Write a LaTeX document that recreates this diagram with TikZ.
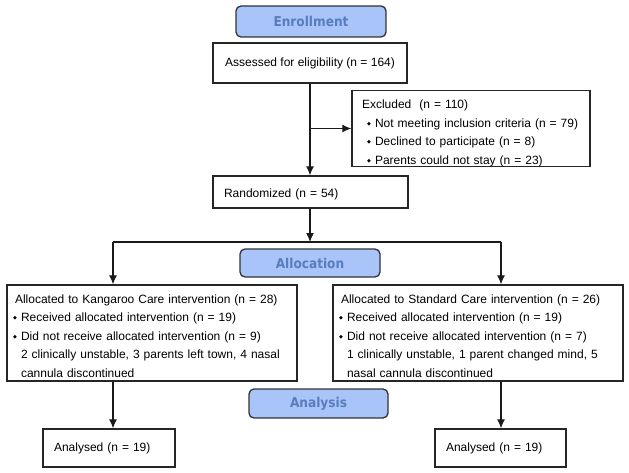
\documentclass[tikz,border=0pt]{standalone}
\usepackage{fontspec}
\setmainfont{Liberation Sans}
\newfontfamily\hdrfont[FakeStretch=0.9]{DejaVu Sans}
\newfontfamily\symfont{DejaVu Sans}
\usetikzlibrary{arrows.meta}
\definecolor{hdrfill}{RGB}{168,196,248}
\definecolor{hdrtext}{RGB}{88,124,190}
\newcommand{\dbul}{{\symfont\fontsize{5}{5}\selectfont\raisebox{2pt}{◆}}}
\newcommand{\bl}{\hspace*{3pt}\makebox[8pt][l]{\dbul}}

\begin{document}
\begin{tikzpicture}[x=1pt,y=-1pt,
	hdr/.style={draw=black!80,line width=1.3pt,fill=hdrfill,rounded corners=5pt,text=hdrtext,
		font=\hdrfont\bfseries\fontsize{13.5}{15}\selectfont,inner sep=0pt},
	box/.style={draw=black!85,line width=1.3pt,font=\fontsize{12}{18.5}\selectfont,
		align=left,inner xsep=3pt,inner ysep=0pt},
	arr/.style={draw=black!90,line width=1.2pt,-{Latex[length=9pt,width=8pt]}}]
	\useasboundingbox (0,0) rectangle (629,473);
	\node[hdr,minimum width=150pt,minimum height=31pt] (enrol) at (311,21.5) {Enrollment};
	\node[box,align=center,minimum width=194pt,minimum height=40pt] (assess) at (310,63)
		{Assessed for eligibility (n = 164)};
	\node[box,text width=232pt,minimum height=75pt] (excl) at (471,128.5)
		{\rule{0pt}{18pt}\hspace*{7pt}Excluded\ \ (n = 110)\\
		\hspace*{9pt}\bl Not meeting inclusion criteria (n = 79)\\
		\hspace*{9pt}\bl Declined to participate (n = 8)\\
		\hspace*{9pt}\bl Parents could not stay (n = 23)};
	\node[box,text width=189pt,minimum height=32pt] (rand) at (310.5,192)
		{\rule{0pt}{14pt}\hspace*{8pt}Randomized (n = 54)};
	\node[hdr,minimum width=140pt,minimum height=28pt] (alloc) at (310,263) {Allocation};
	\node[box,text width=284pt,minimum height=96pt] (kc) at (152,333)
		{\rule{0pt}{15pt}\hspace*{5pt}Allocated to Kangaroo Care intervention (n = 28)\\
		\bl Received allocated intervention (n = 19)\\
		\bl Did not receive allocated intervention (n = 9)\\
		\hspace*{11pt}2 clinically unstable, 3 parents left town, 4 nasal\\
		\hspace*{11pt}cannula discontinued};
	\node[box,text width=284pt,minimum height=96pt] (sc) at (478,333)
		{\rule{0pt}{15pt}\hspace*{5pt}Allocated to Standard Care intervention (n = 26)\\
		\bl Received allocated intervention (n = 19)\\
		\bl Did not receive allocated intervention (n = 7)\\
		\hspace*{11pt}1 clinically unstable, 1 parent changed mind, 5\\
		\hspace*{11pt}nasal cannula discontinued};
	\node[hdr,minimum width=139pt,minimum height=29pt] (anls) at (318.5,403.5) {Analysis};
	\node[box,text width=126pt,minimum height=38pt] (anl) at (109,448)
		{\hspace*{8pt}Analysed (n = 19)};
	\node[box,text width=125pt,minimum height=38pt] (anr) at (500.5,448)
		{\hspace*{8pt}Analysed (n = 19)};
	\coordinate (split) at (310,242);
	\coordinate (lft) at (113,242);
	\coordinate (rgt) at (501,242);
	\draw[arr] (assess.south) -- (assess.south |- rand.north);
	\draw[arr] (assess.south |- excl.west) -- (excl.west);
	\draw[arr] (rand.south -| split) -- (split);
	\draw[draw=black!90,line width=1.2pt] (lft) -- (rgt);
	\draw[arr] (lft) -- (lft |- kc.north);
	\draw[arr] (rgt) -- (rgt |- sc.north);
	\draw[arr] (kc.south -| lft) -- (lft |- anl.north);
	\draw[arr] (sc.south -| rgt) -- (rgt |- anr.north);
\end{tikzpicture}
\end{document}
